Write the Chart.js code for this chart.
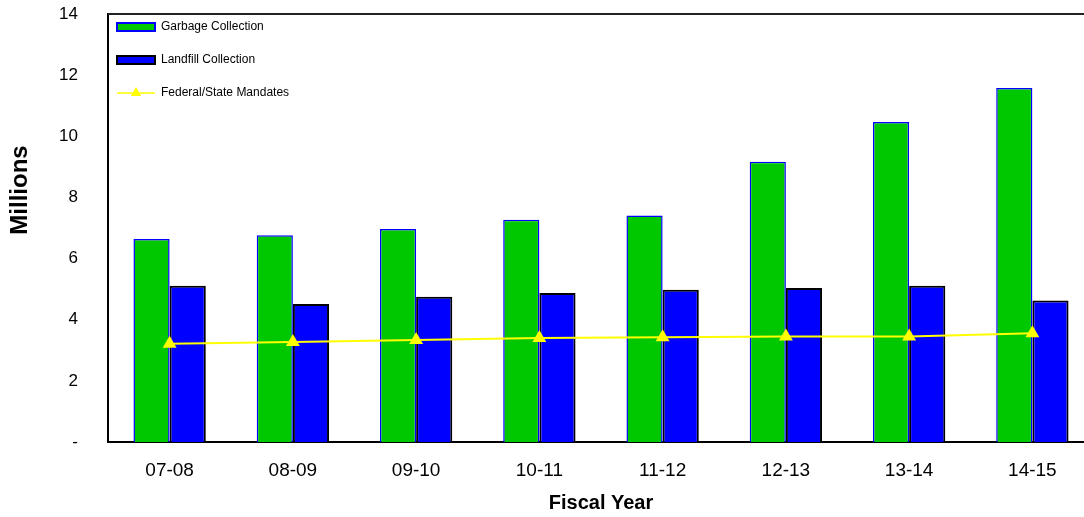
<!DOCTYPE html>
<html>
<head>
<meta charset="utf-8">
<title>Collection Costs by Fiscal Year</title>
<script src="https://cdn.jsdelivr.net/npm/chart.js@4.4.1/dist/chart.umd.min.js"></script>
<style>
  html, body { margin: 0; padding: 0; background: #fff; overflow: hidden; }
  #wrap { position: relative; width: 1094px; height: 517px; }
</style>
</head>
<body>
<div id="wrap"><canvas id="chart"></canvas></div>
<script>
// Fiscal years on the category axis
const fiscalYears = ['07-08', '08-09', '09-10', '10-11', '11-12', '12-13', '13-14', '14-15'];

// Costs in millions of dollars
const garbageCollection = [6.64, 6.76, 6.97, 7.27, 7.41, 9.17, 10.47, 11.58];
const landfillCollection = [5.11, 4.51, 4.75, 4.87, 4.98, 5.04, 5.11, 4.63];
const federalStateMandates = [3.21, 3.27, 3.34, 3.40, 3.43, 3.45, 3.45, 3.56];

// Value-axis labels, from 0 up to 14 in steps of 2
const yTickLabels = ['-', '2', '4', '6', '8', '10', '12', '14'];

const FONT = "'Liberation Sans', Arial, sans-serif";

// Top edge of the plot frame (the axes supply the left and bottom edges)
const frameTop = {
  id: 'frameTop',
  afterDatasetsDraw(chart) {
    const { ctx, chartArea: a } = chart;
    ctx.save();
    ctx.strokeStyle = '#222';
    ctx.lineWidth = 2;
    ctx.beginPath();
    ctx.moveTo(a.left, a.top);
    ctx.lineTo(a.right, a.top);
    ctx.stroke();
    ctx.restore();
  }
};

// Vertical axis caption, set a little above the middle of the plot
const yCaption = {
  id: 'yCaption',
  afterDraw(chart) {
    const { ctx } = chart;
    ctx.save();
    ctx.translate(20, 190);
    ctx.rotate(-Math.PI / 2);
    ctx.font = 'bold 24px ' + FONT;
    ctx.fillStyle = '#000';
    ctx.textAlign = 'center';
    ctx.textBaseline = 'middle';
    ctx.fillText('Millions', 0, 0);
    ctx.restore();
  }
};

// Legend stacked in the upper-left corner of the plot
const cornerLegend = {
  id: 'cornerLegend',
  afterDraw(chart) {
    const { ctx, chartArea: a } = chart;
    const x0 = a.left + 9, x1 = a.left + 47;
    ctx.save();
    ctx.font = '12px ' + FONT;
    ctx.textBaseline = 'middle';
    ctx.textAlign = 'left';
    chart.data.datasets.forEach((ds, i) => {
      const cy = a.top + 13 + i * 33;
      if (ds.type === 'line') {
        ctx.strokeStyle = ds.borderColor;
        ctx.lineWidth = 1.5;
        ctx.beginPath();
        ctx.moveTo(x0, cy);
        ctx.lineTo(x1, cy);
        ctx.stroke();
        const cx = (x0 + x1) / 2, r = 6;
        ctx.fillStyle = ds.backgroundColor;
        ctx.beginPath();
        ctx.moveTo(cx, cy - r);
        ctx.lineTo(cx + r * 0.87, cy + r * 0.5);
        ctx.lineTo(cx - r * 0.87, cy + r * 0.5);
        ctx.closePath();
        ctx.fill();
      } else {
        ctx.fillStyle = ds.backgroundColor;
        ctx.fillRect(x0, cy - 4, x1 - x0, 8);
        ctx.strokeStyle = ds.borderColor;
        ctx.lineWidth = 2;
        ctx.strokeRect(x0, cy - 4, x1 - x0, 8);
      }
      ctx.fillStyle = '#000';
      ctx.fillText(ds.label, a.left + 53, cy);
    });
    ctx.restore();
  }
};

new Chart(document.getElementById('chart'), {
  data: {
    labels: fiscalYears,
    datasets: [
      {
        type: 'bar',
        label: 'Garbage Collection',
        data: garbageCollection,
        backgroundColor: '#00C800',
        borderColor: '#0000FF',
        borderWidth: 1.5,
        order: 2
      },
      {
        type: 'bar',
        label: 'Landfill Collection',
        data: landfillCollection,
        backgroundColor: '#0000FF',
        borderColor: '#000000',
        borderWidth: 2,
        order: 2
      },
      {
        type: 'line',
        label: 'Federal/State Mandates',
        data: federalStateMandates,
        borderColor: '#FFFF00',
        backgroundColor: '#FFFF00',
        borderWidth: 2,
        tension: 0,
        pointStyle: 'triangle',
        pointRadius: 8,
        pointBorderWidth: 0,
        pointBackgroundColor: '#FFFF00',
        order: 0
      }
    ]
  },
  options: {
    responsive: true,
    maintainAspectRatio: false,
    animation: false,
    devicePixelRatio: 1,
    layout: { autoPadding: false, padding: { top: 14, right: 0, left: 0, bottom: 0 } },
    datasets: {
      bar: { barPercentage: 1, categoryPercentage: 0.587 }
    },
    plugins: {
      legend: { display: false },
      tooltip: { enabled: false }
    },
    scales: {
      x: {
        type: 'category',
        offset: true,
        grid: { display: false, drawTicks: false },
        border: { display: true, color: '#000', width: 2 },
        ticks: {
          color: '#000',
          font: { family: FONT, size: 19 },
          padding: 17,
          maxRotation: 0,
          autoSkip: false
        },
        title: {
          display: true,
          text: 'Fiscal Year',
          color: '#000',
          font: { family: FONT, size: 20, weight: 'bold' },
          padding: 2
        },
        afterFit(scale) {
          scale.height = 75;
          scale.paddingLeft = 0;
          scale.paddingRight = 0;
        }
      },
      y: {
        min: 0,
        max: 14,
        grid: { display: false, drawTicks: false },
        border: { display: true, color: '#000', width: 2 },
        ticks: {
          stepSize: 2,
          color: '#000',
          font: { family: FONT, size: 17 },
          padding: 30,
          callback: (value, index) => yTickLabels[index]
        },
        afterFit(scale) {
          scale.width = 108;
          scale.paddingTop = 0;
          scale.paddingBottom = 0;
        }
      }
    }
  },
  plugins: [frameTop, yCaption, cornerLegend]
});
</script>
</body>
</html>
